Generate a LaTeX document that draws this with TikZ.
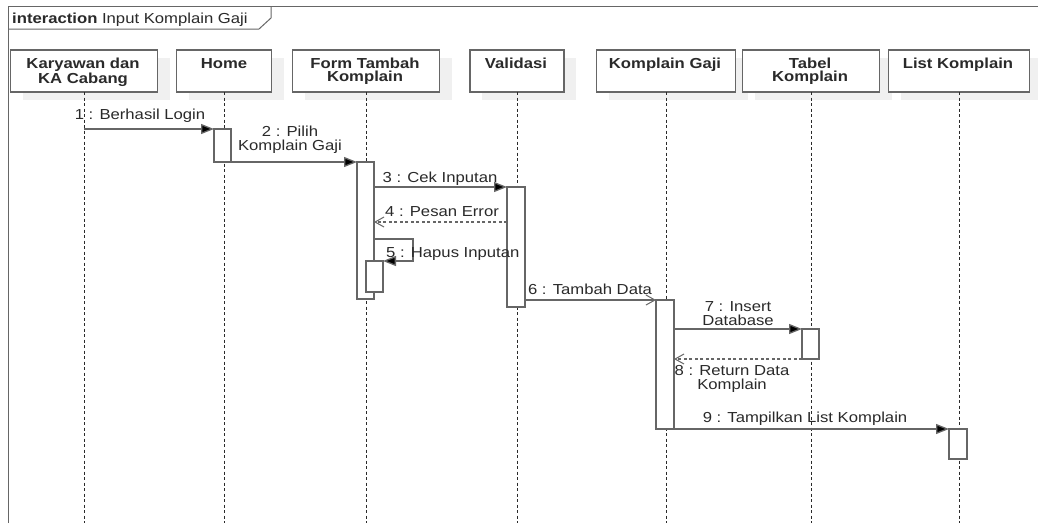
\documentclass[tikz,border=0pt]{standalone}
\usepackage{fontspec}
\setmainfont{Liberation Sans}[FakeStretch=1.15]
\usetikzlibrary{calc,arrows.meta}
\definecolor{inkc}{HTML}{2A2A2A}
\definecolor{linec}{HTML}{666666}
\definecolor{shadowc}{HTML}{F0F0F0}
\tikzset{
  x=1pt, y=-1pt,
  every node/.style={font=\fontsize{14.5}{14}\selectfont, text=inkc},
  frameline/.style={draw=linec, line width=1pt},
  head/.style={draw=linec, fill=white, line width=1.2pt, inner sep=0pt, outer sep=0pt, minimum height=42pt},
  headtxt/.style={font=\fontsize{14.5}{13}\selectfont\bfseries, align=center, inner sep=0pt, anchor=north},
  life/.style={draw=inkc, line width=0.9pt, dash pattern=on 3pt off 2.5pt},
  act/.style={draw=linec, fill=white, line width=1.3pt, inner sep=0pt, outer sep=0pt, minimum width=17pt},
  msg/.style={draw=linec, line width=1.3pt, -{Triangle[length=13pt,width=10pt,fill=black]}},
  ret/.style={draw=linec, line width=1.1pt, dash pattern=on 3pt off 2.5pt, -{Straight Barb[length=9pt,width=10pt,line width=1pt]}},
  async/.style={draw=linec, line width=1.3pt, -{Straight Barb[length=9pt,width=10pt,line width=1pt]}},
  lbl/.style={inner sep=0pt, align=center},
}
\begin{document}
\begin{tikzpicture}
\useasboundingbox (0,0) rectangle (1038,523);
\fill[white] (0,0) rectangle (1038,523);
\coordinate (bottom) at (0,523);

% interaction frame and its name tab
\draw[frameline] (8,523) -- (8,6) -- (1038,6);
\draw[frameline] (8,29) -- (259,29) -- (271,18) -- (271,6);
\node[inner sep=0pt, anchor=base west] (title) at (12,23) {\textbf{interaction} Input Komplain Gaji};

% lifeline heads: shadows first
\foreach \cx/\w in {84/147, 224/95, 366/147, 517/94, 666/139, 811/137, 959/141}{
  \fill[shadowc] (\cx-\w/2+12, 58) rectangle (\cx+\w/2+12, 100);
}
\node[head, minimum width=147pt] (kar) at (84,71) {};
\node[head, minimum width=95pt]  (home) at (224,71) {};
\node[head, minimum width=147pt] (form) at (366,71) {};
\node[head, minimum width=94pt]  (val) at (517,71) {};
\node[head, minimum width=139pt] (kom) at (666,71) {};
\node[head, minimum width=137pt] (tab) at (811,71) {};
\node[head, minimum width=141pt] (list) at (959,71) {};

\node[headtxt] (karT)  at (83,58)  {Karyawan dan\\KA Cabang};
\node[headtxt] (homeT) at (224,58) {Home};
\node[headtxt] (formT) at (365,58) {Form Tambah\\Komplain};
\node[headtxt] (valT)  at (516,58) {Validasi};
\node[headtxt] (komT)  at (665,58) {Komplain Gaji};
\node[headtxt] (tabT)  at (810,58) {Tabel\\Komplain};
\node[headtxt] (listT) at (958,58) {List Komplain};

% lifelines
\foreach \h in {kar,home,form,val,kom,tab,list}{
  \draw[life] (\h.south) -- (\h.south |- bottom);
}

% activation bars
\node[act, minimum height=33pt]  (hA) at (222.5,145.5) {};
\node[act, minimum height=137pt] (fA) at (365.5,230.5) {};
\node[act, minimum height=31pt]  (fB) at (374.5,276.5) {};
\node[act, minimum width=18pt, minimum height=120pt] (vA) at (516,247) {};
\node[act, minimum width=18pt, minimum height=129pt] (kA) at (665,364.5) {};
\node[act, minimum height=30pt]  (tA) at (810.5,344) {};
\node[act, minimum width=18pt, minimum height=30pt]  (lA) at (958,444) {};

% messages
\draw[msg] (kar.south |- hA.north) -- (hA.north west);
\draw[msg] (hA.south east) -- (fA.north west);
\draw[msg] (fA.east |- vA.north) -- (vA.north west);
\draw[ret] ($(vA.north west)+(0,35)$) -- ($(fA.north east)+(0,60)$);
\draw[msg] ($(fA.north east)+(0,77)$) -- ++(39,0) |- (fB.north east);
\draw[async] (vA.east |- kA.north) -- (kA.north west);
\draw[msg] (kA.east |- tA.north) -- (tA.north west);
\draw[ret] (tA.south west) -- (kA.east |- tA.south);
\draw[msg] (kA.south east) -- (lA.north west);

% message labels
\node[lbl, anchor=base] (m1) at (140,119) {1 : Berhasil Login};
\node[lbl, anchor=south] (m2) at (290,154) {2 : Pilih\\Komplain Gaji};
\node[lbl, anchor=base] (m3) at (440,182) {3 : Cek Inputan};
\node[lbl, anchor=base] (m4) at (442,216) {4 : Pesan Error};
\node[lbl, anchor=base west] (m5) at (386,257) {5 : Hapus Inputan};
\node[lbl, anchor=base] (m6) at (590,294) {6 : Tambah Data};
\node[lbl, anchor=south] (m7) at (738,326) {7 : Insert\\Database};
\node[lbl, anchor=south] (m8) at (732,393) {8 : Return Data\\Komplain};
\node[lbl, anchor=base] (m9) at (805,422) {9 : Tampilkan List Komplain};
\end{tikzpicture}
\end{document}
